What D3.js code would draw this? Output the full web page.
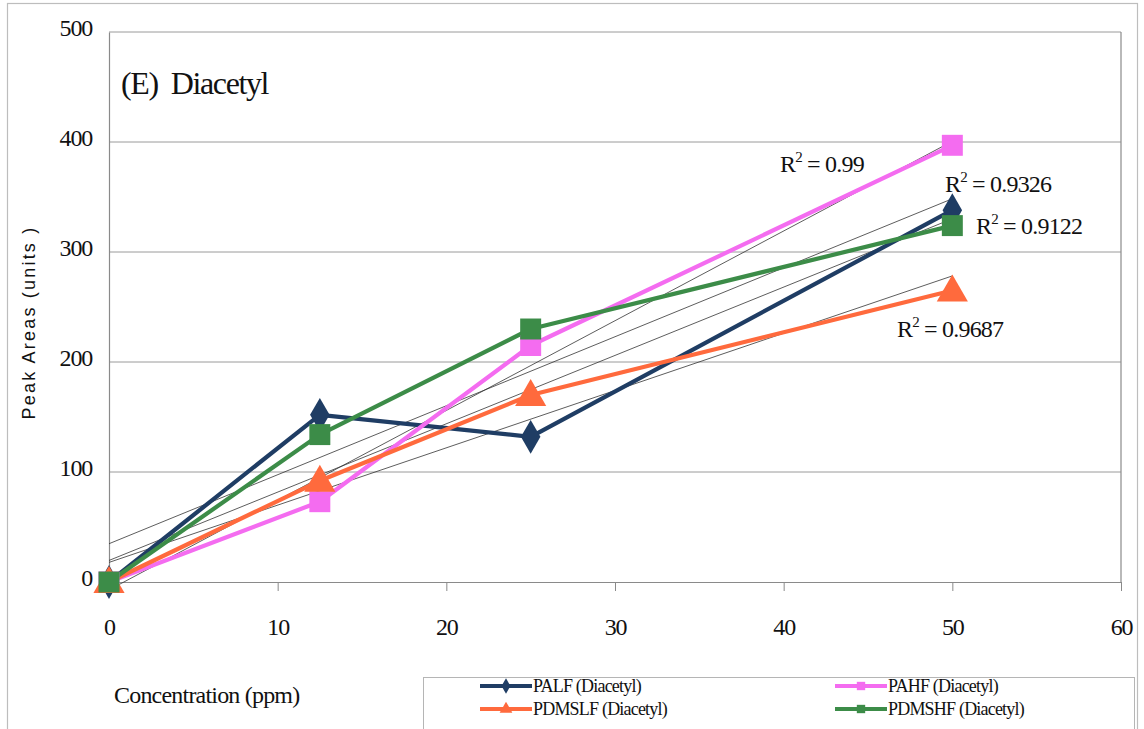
<!DOCTYPE html>
<html>
<head>
<meta charset="utf-8">
<script src="https://cdn.jsdelivr.net/npm/d3@7"></script>
<style>
  html, body { margin: 0; padding: 0; background: #fff; }
  svg { display: block; }
</style>
</head>
<body>
<svg id="chart" width="1144" height="729"></svg>
<script>
// ---- data ----
const concentrations = [0, 12.5, 25, 50];
const seriesNames = ["PALF (Diacetyl)", "PAHF (Diacetyl)", "PDMSLF (Diacetyl)", "PDMSHF (Diacetyl)"];
const palf   = [0, 152, 132, 338];
const pahf   = [0, 73, 215, 397];
const pdmslf = [0, 92, 170, 265];
const pdmshf = [0, 134, 230, 324];
const r2Labels = ["0.9122", "0.99", "0.9687", "0.9326"];
const xTicks = [0, 10, 20, 30, 40, 50, 60];
const yTicks = [0, 100, 200, 300, 400, 500];

const colors  = ["#1F3D64", "#F46CF0", "#FF6A3D", "#3C8C48"];
const shapes  = [d3.symbolDiamond, d3.symbolSquare, d3.symbolTriangle, d3.symbolSquare];
const values  = [palf, pahf, pdmslf, pdmshf];

const svg = d3.select("#chart");
const serif = "Liberation Serif, Times New Roman, serif";

// outer chart border
svg.append("rect").attr("x", 7.5).attr("y", 3.5).attr("width", 1130).attr("height", 740)
  .attr("fill", "none").attr("stroke", "#bdbdbd").attr("stroke-width", 1.2);

const m = {left: 109, right: 1121, top: 32, bottom: 582};
const x = d3.scaleLinear().domain([0, 60]).range([m.left, m.right]);
const y = d3.scaleLinear().domain([0, 500]).range([m.bottom, m.top]);

// gridlines
svg.append("g").selectAll("line").data(yTicks.filter(v => v > 0)).join("line")
  .attr("x1", m.left).attr("x2", m.right)
  .attr("y1", d => y(d)).attr("y2", d => y(d))
  .attr("stroke", "#9a9a9a").attr("stroke-width", 1);

// plot frame right edge
svg.append("line").attr("x1", m.right).attr("x2", m.right).attr("y1", m.top).attr("y2", m.bottom)
  .attr("stroke", "#8a8a8a").attr("stroke-width", 1.2);

// axes
const xAxis = svg.append("g").attr("transform", `translate(0,${m.bottom})`)
  .call(d3.axisBottom(x).tickValues(xTicks).tickSize(9).tickSizeOuter(0).tickPadding(27));
const yAxis = svg.append("g").attr("transform", `translate(${m.left},0)`)
  .call(d3.axisLeft(y).tickValues(yTicks).tickSize(0).tickSizeOuter(0).tickPadding(17));
[xAxis, yAxis].forEach(g => {
  g.select(".domain").attr("stroke", "#8a8a8a").attr("stroke-width", 1.2);
  g.selectAll(".tick line").attr("stroke", "#8a8a8a");
  g.selectAll("text").attr("font-family", serif).attr("font-size", 24)
    .attr("letter-spacing", -1.2).attr("fill", "#111");
});
yAxis.selectAll("text").attr("dy", "0.15em");

// y-axis title
svg.append("text")
  .attr("transform", `translate(35,${(225 + 420) / 2}) rotate(-90)`)
  .attr("text-anchor", "middle")
  .attr("font-family", "Liberation Sans, Arial, sans-serif").attr("font-size", 18)
  .attr("letter-spacing", 2.2).attr("fill", "#111")
  .text("Peak Areas (units )");

// chart title inside plot
svg.append("text").attr("x", 121).attr("y", 94)
  .attr("font-family", serif).attr("font-size", 32).attr("letter-spacing", -1.4)
  .attr("fill", "#111").attr("xml:space", "preserve").text("(E)  Diacetyl");

// x-axis title
svg.append("text").attr("x", 114).attr("y", 703)
  .attr("font-family", serif).attr("font-size", 24).attr("letter-spacing", -0.8)
  .attr("fill", "#111").text("Concentration (ppm)");

// linear trendlines (least squares of each series)
function fit(vals) {
  const mx = d3.mean(concentrations), my = d3.mean(vals);
  let sxy = 0, sxx = 0;
  concentrations.forEach((c, i) => { sxy += (c - mx) * (vals[i] - my); sxx += (c - mx) ** 2; });
  const b = sxy / sxx;
  return {b, a: my - b * mx};
}
const xEnd = d3.max(concentrations);
values.forEach(vals => {
  const f = fit(vals);
  svg.append("line")
    .attr("x1", x(0)).attr("y1", y(f.a))
    .attr("x2", x(xEnd)).attr("y2", y(f.a + f.b * xEnd))
    .attr("stroke", "#333").attr("stroke-width", 0.8);
});

// series lines + markers
const line = d3.line().x((d, i) => x(concentrations[i])).y(d => y(d));
const order = [0, 1, 2, 3];
order.forEach(k => {
  svg.append("path").datum(values[k]).attr("d", line)
    .attr("fill", "none").attr("stroke", colors[k]).attr("stroke-width", 4.2)
    .attr("stroke-linejoin", "round");
});
const markerSizes = [330, 440, 420, 440];
order.forEach(k => {
  svg.append("g").selectAll("path").data(values[k]).join("path")
    .attr("transform", (d, i) => `translate(${x(concentrations[i])},${y(d) + (k === 2 ? 2 : 0)})`)
    .attr("d", d3.symbol().type(shapes[k]).size(markerSizes[k]))
    .attr("fill", colors[k]);
});

// R² labels
const r2Pos = [[976, 234], [780, 172], [897, 337], [945, 192]];
r2Labels.forEach((t, i) => {
  const tx = svg.append("text").attr("x", r2Pos[i][0]).attr("y", r2Pos[i][1])
    .attr("font-family", serif).attr("font-size", 24).attr("letter-spacing", -0.8)
    .attr("fill", "#111");
  tx.append("tspan").text("R");
  tx.append("tspan").attr("font-size", 15).attr("dy", -10).text("2");
  tx.append("tspan").attr("dy", 10).text(" = " + t);
});

// legend
svg.append("rect").attr("x", 423.5).attr("y", 677.5).attr("width", 711).attr("height", 70)
  .attr("fill", "#fff").attr("stroke", "#b5b5b5").attr("stroke-width", 1);
const legPos = [[480, 686], [835, 686], [480, 709], [835, 709]];
order.forEach(k => {
  const [lx, ly] = legPos[k];
  const g = svg.append("g");
  g.append("line").attr("x1", lx).attr("x2", lx + 52).attr("y1", ly).attr("y2", ly)
    .attr("stroke", colors[k]).attr("stroke-width", 4);
  g.append("path").attr("transform", `translate(${lx + 26},${ly})`)
    .attr("d", d3.symbol().type(shapes[k]).size(70)).attr("fill", colors[k]);
  g.append("text").attr("x", lx + 53).attr("y", ly + 6)
    .attr("font-family", serif).attr("font-size", 18).attr("letter-spacing", -0.8)
    .attr("fill", "#111").text(seriesNames[k]);
});
</script>
</body>
</html>
